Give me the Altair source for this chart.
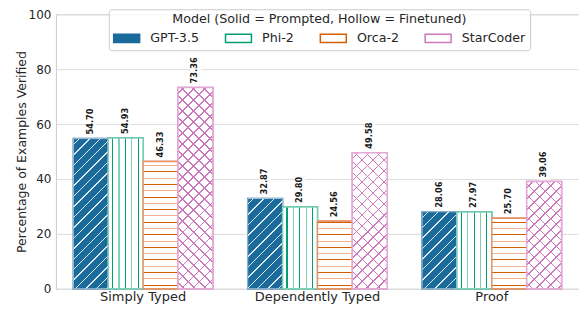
import math
import altair as alt
import pandas as pd

# ---- data ----
categories = ["Simply Typed", "Dependently Typed", "Proof"]
models = ["GPT-3.5", "Phi-2", "Orca-2", "StarCoder"]
gpt35 = [54.70, 32.87, 28.06]
phi2 = [54.93, 29.80, 27.97]
orca2 = [46.33, 24.56, 25.70]
starcoder = [73.36, 49.58, 39.06]
series = {"GPT-3.5": gpt35, "Phi-2": phi2, "Orca-2": orca2, "StarCoder": starcoder}

rows = []
for m in models:
    for c, v in zip(categories, series[m]):
        rows.append({"category": c, "model": m, "value": v})
df = pd.DataFrame(rows)

# ---- style ----
W, H = 524, 275
BLUE, GREEN, ORANGE, PINK = "#1a6a9b", "#029e73", "#d55e00", "#cc78bc"
BAR_W = 0.2 * W / 3.0
TRANSP = "rgba(255,255,255,0)"


def stripe_stops(L, period, lw, bg, colors, phase=None):
    stops = [{"offset": 0, "color": bg}]
    t = period / 2 if phase is None else phase
    i = 0
    while t + lw < L:
        a = round(t / L, 5)
        b = round((t + lw) / L, 5)
        col = colors[i % len(colors)]
        stops += [
            {"offset": a, "color": bg},
            {"offset": a, "color": col},
            {"offset": b, "color": col},
            {"offset": b, "color": bg},
        ]
        t += period
        i += 1
    stops.append({"offset": 1, "color": bg})
    return stops


def diag_grad(w, h, bg, colors, period, lw, direction):
    c = (w + h) / (w * w + h * h)
    if direction == "/":
        x1, y1, x2, y2 = 0, 0, c * w, c * h
    else:
        x1, y1, x2, y2 = 0, 1, c * w, 1 - c * h
    L = (w + h) / math.sqrt(2)
    return {"gradient": "linear", "x1": x1, "y1": y1, "x2": x2, "y2": y2,
            "stops": stripe_stops(L, period, lw, bg, colors)}


def vert_grad(w, bg, colors, period, lw):
    return {"gradient": "linear", "x1": 0, "y1": 0, "x2": 1, "y2": 0,
            "stops": stripe_stops(w, period, lw, bg, colors, phase=period * 0.6)}


def horiz_grad(h, bg, colors, period, lw):
    return {"gradient": "linear", "x1": 0, "y1": 1, "x2": 0, "y2": 0,
            "stops": stripe_stops(h, period, lw, bg, colors, phase=period * 0.5)}


x_enc = alt.X("category:N", sort=categories,
              scale=alt.Scale(domain=categories, paddingInner=0.2, paddingOuter=0.1),
              axis=alt.Axis(title=None, labelAngle=0, domain=False, ticks=False,
                            labelFontSize=13, labelColor="#262626", labelPadding=2))
xo_enc = alt.XOffset("model:N", sort=models,
                     scale=alt.Scale(domain=models, paddingInner=0, paddingOuter=0))
y_enc = alt.Y("value:Q", scale=alt.Scale(domain=[0, 100], nice=False),
              axis=alt.Axis(title="Percentage of Examples Verified",
                            values=[0, 20, 40, 60, 80, 100], grid=True,
                            gridColor="#dddddd", domain=False, ticks=False,
                            labelFontSize=12, labelColor="#262626", labelPadding=5,
                            titleFontSize=12.5, titleFontWeight="normal",
                            titleColor="#262626", titlePadding=0))

base = alt.Chart(df)

LEG_TITLE = "Model (Solid = Prompted, Hollow = Finetuned)"

# legend carrier (drawn first, covered by hatched bars)
carrier = base.mark_bar(strokeWidth=1.5).encode(
    x=x_enc, xOffset=xo_enc, y=y_enc,
    fill=alt.Fill("model:N", sort=models,
                  scale=alt.Scale(domain=models, range=[BLUE, "white", "white", "white"]),
                  legend=alt.Legend(
                      title=LEG_TITLE, titleLimit=600, labelLimit=300,
                      orient="none", legendX=53, legendY=-5,
                      direction="horizontal", columns=4,
                      titleAnchor="middle", titleFontSize=12.7, titleFontWeight="normal",
                      titleColor="#262626", titlePadding=3,
                      labelFontSize=12.7, labelColor="#262626", labelOffset=19.5,
                      symbolType="M-1,-0.5H2.2V0.5H-1Z", symbolSize=264,
                      symbolStrokeWidth=1.5, columnPadding=22, padding=4,
                      fillColor="rgba(255,255,255,0.85)", strokeColor="#cccccc",
                      cornerRadius=3)),
    stroke=alt.Stroke("model:N", sort=models,
                      scale=alt.Scale(domain=models, range=[BLUE, GREEN, ORANGE, PINK]),
                      legend=alt.Legend(title=LEG_TITLE)),
)

layers = [carrier]
for m in models:
    for c, v in zip(categories, series[m]):
        h = v / 100.0 * H
        sub = base.transform_filter(
            (alt.datum.model == m) & (alt.datum.category == c))
        enc = dict(x=x_enc, xOffset=xo_enc, y=y_enc)
        if m == "GPT-3.5":
            g = diag_grad(BAR_W, h, BLUE, ["#dde8f0"], 7.4, 1.0, "/")
            layers.append(sub.mark_bar(fill=g, stroke="#a9c3d6", strokeWidth=1).encode(**enc))
        elif m == "Phi-2":
            g = vert_grad(BAR_W, "white", [GREEN, "#80cfb9"], 6.4, 1.1)
            layers.append(sub.mark_bar(fill=g, stroke="#7fcfb9", strokeWidth=1.5).encode(**enc))
        elif m == "Orca-2":
            g = horiz_grad(h, "white", [ORANGE, "#f0b48c"], 6.3, 1.0)
            layers.append(sub.mark_bar(fill=g, stroke="#e6946a", strokeWidth=1.5).encode(**enc))
        else:
            g1 = diag_grad(BAR_W, h, "white", [PINK], 7.8, 1.0, "/")
            g2 = diag_grad(BAR_W, h, TRANSP, [PINK], 7.8, 1.0, "\\")
            layers.append(sub.mark_bar(fill=g1, strokeWidth=0).encode(**enc))
            layers.append(sub.mark_bar(fill=g2, stroke="#e3a9d7", strokeWidth=1.5).encode(**enc))

# white boxes behind labels
boxes = base.transform_calculate(
    lo="datum.value + 0.7", hi="datum.value + 11"
).mark_bar(width=11, color="white").encode(
    x=x_enc, xOffset=xo_enc, y=alt.Y("lo:Q", scale=alt.Scale(domain=[0, 100], nice=False)),
    y2="hi:Q")

labels = base.mark_text(angle=270, align="left", baseline="middle", dx=4,
                        font="DejaVu Sans", fontWeight="bold", fontSize=8.3,
                        color="#1a1a1a").encode(
    x=x_enc, xOffset=xo_enc, y=y_enc, text=alt.Text("value:Q", format=".2f"))

layers += [boxes, labels]

chart = alt.layer(*layers).properties(
    width=W, height=H,
    autosize=alt.AutoSizeParams(type="none"),
    padding={"left": 48, "top": 6, "right": 0, "bottom": 19},
).configure(font="DejaVu Sans").configure_view(
    stroke="#cccccc", strokeWidth=1
).configure_axis(labelFont="DejaVu Sans", titleFont="DejaVu Sans")

chart.save("out.html", embed_options={"renderer": "svg", "actions": False})
